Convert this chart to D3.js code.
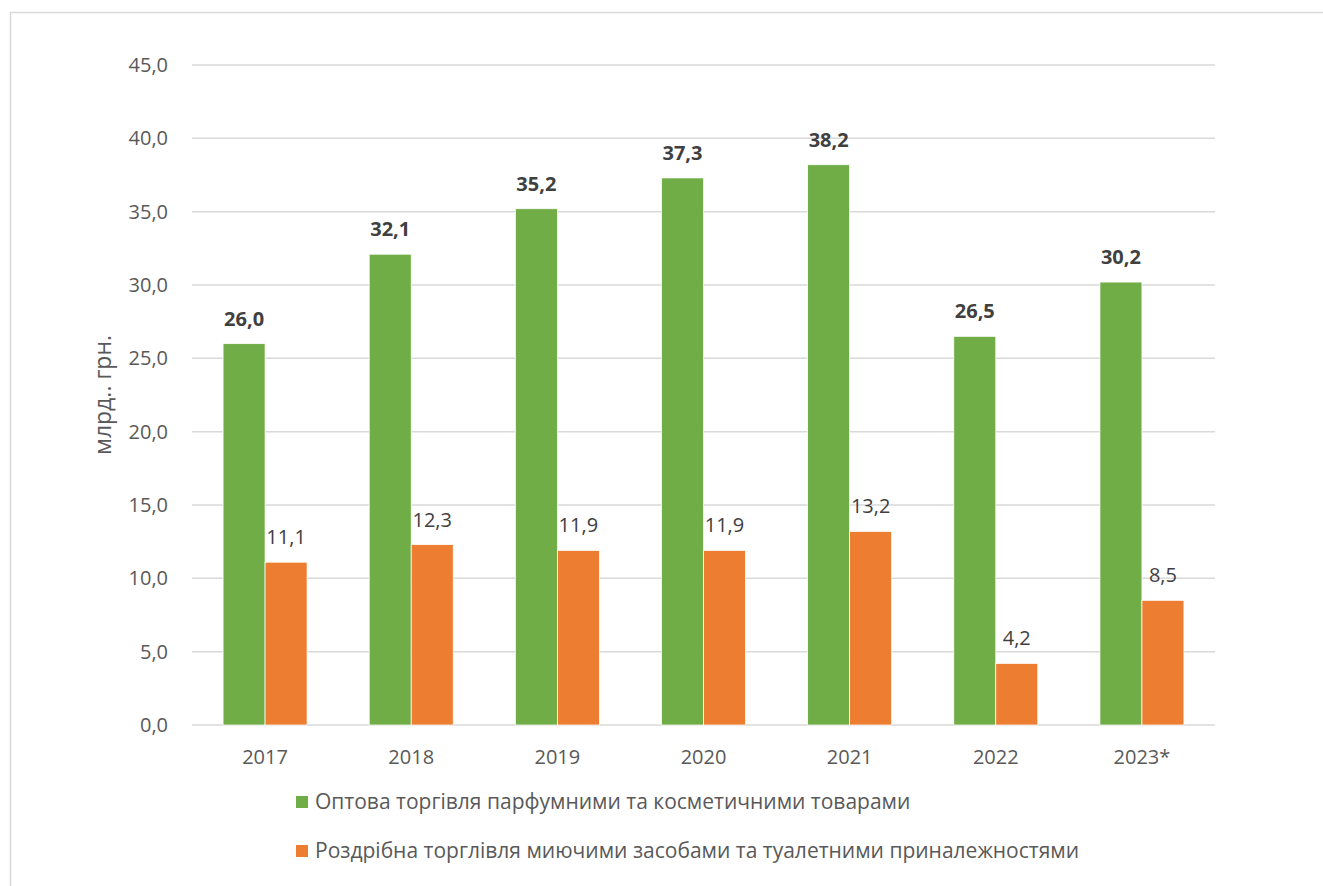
<!DOCTYPE html>
<html>
<head>
<meta charset="utf-8">
<script src="https://cdn.jsdelivr.net/npm/d3@7"></script>
<style>
  body { margin: 0; background: #fff; }
  svg text { font-family: "Open Sans", "Noto Sans", sans-serif; }
</style>
</head>
<body>
<svg id="chart" width="1323" height="886"></svg>
<script>
// chart data
var years = ['2017', '2018', '2019', '2020', '2021', '2022', '2023*'];
var wholesale = [26.0, 32.1, 35.2, 37.3, 38.2, 26.5, 30.2];
var retail = [11.1, 12.3, 11.9, 11.9, 13.2, 4.2, 8.5];
var yTicks = [0, 5, 10, 15, 20, 25, 30, 35, 40, 45];
var seriesNames = [
    'Оптова торгівля парфумними та косметичними товарами',
    'Роздрібна торглівля миючими засобами та туалетними приналежностями'
];
var colors = ['#70ad47', '#ed7d31'];

var svg = d3.select('#chart');
var fmt = function(v) { return v.toFixed(1).replace('.', ','); };

// outer frame (cut by the right and bottom edges)
svg.append('rect')
    .attr('x', 10.5).attr('y', 12.5)
    .attr('width', 1330).attr('height', 900)
    .attr('fill', 'none')
    .attr('stroke', '#d9d9d9')
    .attr('stroke-width', 1.5);

var plot = {left: 192, right: 1215, top: 65, bottom: 725};

var x = d3.scaleBand().domain(years).range([plot.left, plot.right]).paddingInner(0).paddingOuter(0);
var y = d3.scaleLinear().domain([0, 45]).range([plot.bottom, plot.top]);
var barW = 42;

// gridlines
svg.append('g')
    .selectAll('line')
    .data(yTicks)
    .enter()
    .append('line')
    .attr('x1', plot.left).attr('x2', plot.right)
    .attr('y1', d => y(d)).attr('y2', d => y(d))
    .attr('stroke', '#d9d9d9')
    .attr('stroke-width', 1.5);

// y tick labels
svg.append('g')
    .selectAll('text')
    .data(yTicks)
    .enter()
    .append('text')
    .attr('x', 168)
    .attr('y', d => y(d))
    .attr('dy', '0.35em')
    .attr('text-anchor', 'end')
    .attr('font-size', 20)
    .attr('fill', '#595959')
    .text(fmt);

// y axis title
svg.append('text')
    .attr('transform', 'translate(111,395) rotate(-90)')
    .attr('text-anchor', 'middle')
    .attr('font-size', 23)
    .attr('fill', '#595959')
    .text('млрд.. грн.');

// x labels
svg.append('g')
    .selectAll('text')
    .data(years)
    .enter()
    .append('text')
    .attr('x', d => x(d) + x.bandwidth() / 2)
    .attr('y', 757)
    .attr('dy', '0.35em')
    .attr('text-anchor', 'middle')
    .attr('font-size', 20)
    .attr('fill', '#595959')
    .text(d => d);

// bars
[wholesale, retail].forEach(function(vals, si) {
    var g = svg.append('g');
    g.selectAll('rect')
        .data(vals)
        .enter()
        .append('rect')
        .attr('x', (d, i) => x(years[i]) + x.bandwidth() / 2 - barW + si * barW)
        .attr('y', d => y(d))
        .attr('width', barW)
        .attr('height', d => y(0) - y(d))
        .attr('fill', colors[si])
        .attr('stroke', '#fff')
        .attr('stroke-width', 0.75);

    g.selectAll('text')
        .data(vals)
        .enter()
        .append('text')
        .attr('x', (d, i) => x(years[i]) + x.bandwidth() / 2 - barW / 2 + si * barW)
        .attr('y', d => y(d) - 18)
        .attr('text-anchor', 'middle')
        .attr('font-size', 20)
        .attr('font-weight', si == 0 ? 'bold' : 'normal')
        .attr('fill', '#404040')
        .text(fmt);
});

// legend
var legend = svg.append('g');
seriesNames.forEach(function(name, i) {
    var ly = 802 + i * 49;
    legend.append('rect')
        .attr('x', 296).attr('y', ly - 6)
        .attr('width', 12).attr('height', 12)
        .attr('fill', colors[i]);
    legend.append('text')
        .attr('x', 315).attr('y', ly)
        .attr('dy', '0.35em')
        .attr('font-size', 21)
        .attr('fill', '#595959')
        .text(name);
});
</script>
</body>
</html>
